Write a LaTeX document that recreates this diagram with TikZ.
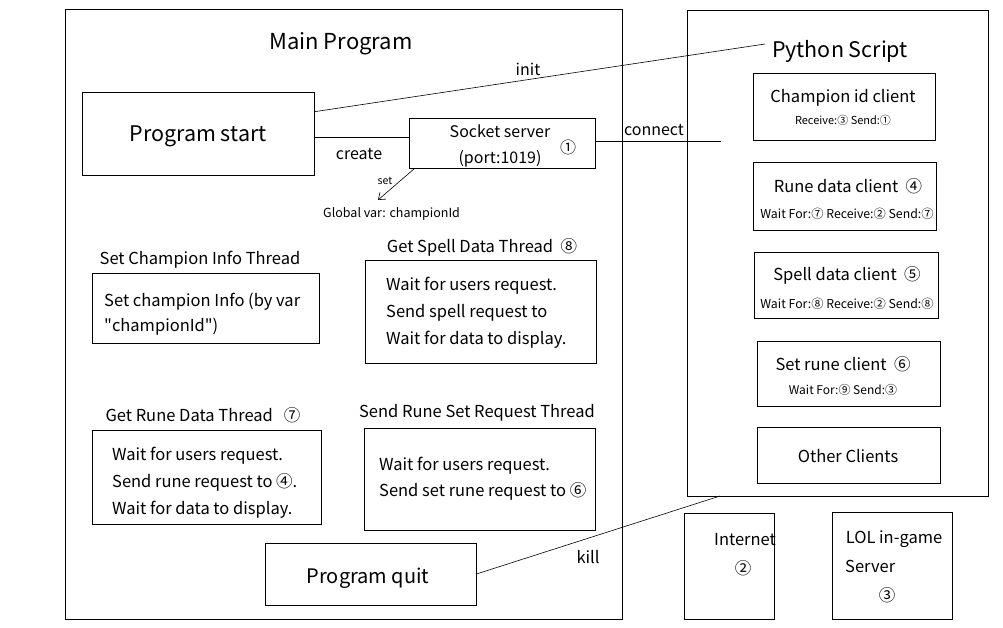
\documentclass[tikz,border=0pt]{standalone}
\usepackage{fontspec}
\setmainfont{Noto Sans CJK SC}
\newfontfamily\qf{Noto Sans CJK SC}
\usetikzlibrary{arrows.meta,calc}
\newcommand{\fs}[1]{\fontsize{#1}{#1}\selectfont}
\begin{document}
\begin{tikzpicture}[x=1pt,y=-1pt,
  box/.style={draw,line width=0.8pt,inner sep=0pt},
  txt/.style={inner sep=0pt,yshift=-2.5pt},
  body/.style={inner sep=0pt,align=left,anchor=west,yshift=-2.5pt},
  conn/.style={line width=0.6pt}]
\useasboundingbox (0,0) rectangle (1003,627);
\fill[white] (0,0) rectangle (1003,627);
% outer boxes
\node[box,minimum width=557pt,minimum height=610pt] (main) at (343.5,314) {};
\node[box,minimum width=301pt,minimum height=486pt] (py) at (837.5,253) {};
\node[txt,font=\fs{22}] (maint) at (341,41) {Main Program};
\node[txt,font=\fs{21.5}] (pyt) at (840,49) {Python Script};
% main program content
\node[box,minimum width=232pt,minimum height=83pt] (start) at (198,133.5) {};
\node[txt,font=\fs{21.5}] (startt) at (start.center) {Program start};
\node[box,minimum width=186pt,minimum height=50pt] (sock) at (502,143) {};
\node[txt,font=\fs{16}] (sock1) at (500,129) {Socket server};
\node[txt,font=\fs{16}] (sock2) at (500,156) {(port:1019)};
\node[txt,font=\fs{16}] (sockn) at (568,145) {①};
\node[txt,font=\fs{16}] (initl) at (528,67) {init};
\node[txt,font=\fs{16}] (createl) at (359,152) {create};
\node[txt,font=\fs{16}] (connl) at (654,128) {connect};
\node[txt,font=\fs{10.5}] (setl) at (385,178) {set};
\node[txt,font=\fs{12.5},anchor=west] (gv) at (323,211) {Global var: championId};
\coordinate (gvarr) at (378,200);
\coordinate (connend) at (721,141);
\coordinate (initend) at (765,44);
\draw[conn] ($(start.north east)!0.24!(start.south east)$) -- (initend);
\draw[conn] (start.east |- 0,137) -- (sock.west |- 0,137);
\draw[conn] (sock.east |- 0,141) -- (connend);
\draw[conn,-{Straight Barb[length=6pt,width=9pt]}] ($(sock.south west)+(6,0)$) -- (gvarr);
% threads
\node[txt,font=\fs{16.5}] (champt) at (200,257) {Set Champion Info Thread};
\node[box,minimum width=227pt,minimum height=70pt] (champ) at (205.5,308) {};
\node[body,font=\fontsize{16.5}{25}\selectfont] (champb) at (104,311.5) {Set champion Info (by var\\{\qf"}championId{\qf"})};
\node[txt,font=\fs{16.5}] (spellt) at (482,245) {Get Spell Data Thread \ ⑧};
\node[box,minimum width=231pt,minimum height=103pt] (spell) at (480.5,311.5) {};
\node[body,font=\fontsize{16.5}{27}\selectfont] (spellb) at (386,310) {Wait for users request.\\Send spell request to\\Wait for data to display.};
\node[txt,font=\fs{16.5}] (runet) at (203,413) {Get Rune Data Thread \ \ ⑦};
\node[box,minimum width=229pt,minimum height=94pt] (rune) at (206.5,477) {};
\node[body,font=\fontsize{16.5}{27}\selectfont] (runeb) at (112,480) {Wait for users request.\\Send rune request to ④.\\Wait for data to display.};
\node[txt,font=\fs{16.5}] (setreqt) at (477,410) {Send Rune Set Request Thread};
\node[box,minimum width=231pt,minimum height=102pt] (setreq) at (479.5,479) {};
\node[body,font=\fontsize{16.5}{26}\selectfont] (setreqb) at (379,476) {Wait for users request.\\Send set rune request to ⑥};
\node[box,minimum width=211pt,minimum height=62pt] (quit) at (370.5,574) {};
\node[txt,font=\fs{20}] (quitt) at (368,576) {Program quit};
\node[txt,font=\fs{16.5}] (killl) at (588,555) {kill};
\coordinate (killend) at (720,496);
\draw[conn] (quit.east) -- (killend);
% python clients
\node[box,minimum width=182pt,minimum height=67pt] (cid) at (844,106.5) {};
\node[txt,font=\fs{16.5}] at (843,95) {Champion id client};
\node[txt,font=\fs{11}] at (843,118) {Receive:③ Send:①};
\node[box,minimum width=183pt,minimum height=68pt] (rdc) at (844.5,196) {};
\node[txt,font=\fs{16.5}] at (848,184) {Rune data client \ ④};
\node[txt,font=\fs{12.3}] at (847,211) {Wait For:⑦ Receive:② Send:⑦};
\node[box,minimum width=184pt,minimum height=66pt] (sdc) at (846,285) {};
\node[txt,font=\fs{16.5}] at (847,273) {Spell data client \ ⑤};
\node[txt,font=\fs{12.3}] at (847,301) {Wait For:⑧ Receive:② Send:⑧};
\node[box,minimum width=183pt,minimum height=65pt] (src) at (848.5,373.5) {};
\node[txt,font=\fs{16.5}] at (843,362) {Set rune client \ ⑥};
\node[txt,font=\fs{12}] at (843,387) {Wait For:⑨ Send:③};
\node[box,minimum width=183pt,minimum height=56pt] (other) at (848.5,455) {};
\node[txt,font=\fs{16.5}] (othert) at (848,454) {Other Clients};
% external
\node[box,minimum width=90pt,minimum height=106pt] (inet) at (729,566) {};
\node[txt,font=\fs{16.5}] at (745,537) {Internet};
\node[txt,font=\fs{16.5}] at (743,566) {②};
\node[box,minimum width=120pt,minimum height=107pt] (lol) at (892,565.5) {};
\node[txt,font=\fs{16.5}] at (894,537) {LOL in-game};
\node[txt,font=\fs{16.5},anchor=west] at (845,564) {Server};
\node[txt,font=\fs{16.5}] at (887,593) {③};
\end{tikzpicture}
\end{document}
